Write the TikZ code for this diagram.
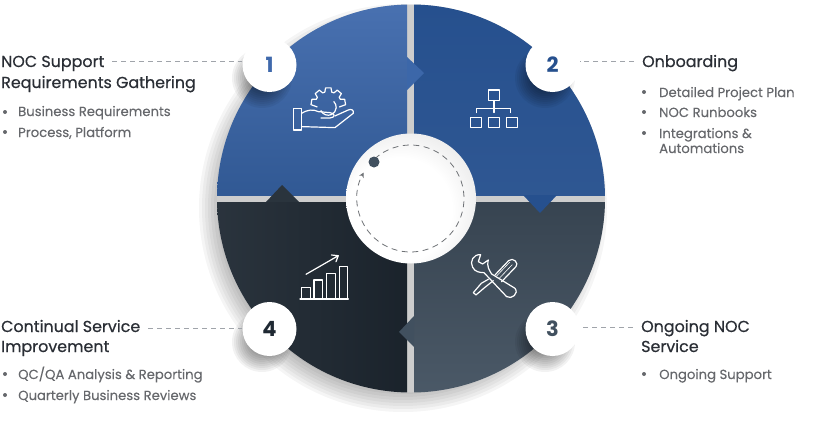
\documentclass[tikz,border=0pt]{standalone}
\usepackage{fontspec}
\setmainfont{Poppins}
\newfontfamily\headfont[FakeBold=0.6]{Poppins}
\newfontfamily\listfont[FakeBold=0.2]{Poppins}
\usetikzlibrary{arrows.meta}

\definecolor{blueA}{HTML}{3F69AC}
\definecolor{blueB}{HTML}{26508E}
\definecolor{slateC}{HTML}{41505F}
\definecolor{darkD}{HTML}{1F2933}
\definecolor{headtext}{HTML}{2A2E35}
\definecolor{bodytext}{HTML}{66686C}
\definecolor{gapgrey}{HTML}{CDCDCD}
\definecolor{dashgrey}{HTML}{A0A4AA}

\pgfdeclareradialshading{hubshade}{\pgfpoint{-6bp}{-6bp}}{color(0bp)=(white); color(20bp)=(white); color(33bp)=(gray!18); color(43bp)=(gray!38); color(52bp)=(gray!48); color(70bp)=(gray!50)}

\tikzset{
  seg1/.style={top color=blueA!95!white,bottom color=blueB!95!white},
  seg2/.style={top color=blueB,bottom color=blueB!96!white},
  seg3/.style={top color=slateC!85!black,bottom color=slateC!95!white},
  seg4/.style={left color=darkD!95!white,right color=darkD!85!black},
  badge/.style={circle,fill=white,minimum size=54pt,inner sep=0pt,font=\bfseries\fontsize{21}{21}\selectfont},
  headline/.style={anchor=base west,inner sep=0pt,text height=12pt,text depth=0pt,text=headtext,font=\headfont\fontsize{15.9}{15.9}\selectfont},
  listline/.style={anchor=base west,inner sep=0pt,text=bodytext,font=\listfont\fontsize{13.2}{13.2}\selectfont},
  leader/.style={dashgrey,line width=.7pt,dash pattern=on 5pt off 4pt,shorten <=8pt},
  icon/.style={white,line width=1.2pt,line join=round,line cap=round},
}

\newcommand{\softshadow}[2]{%
  \foreach \r in {14,16,...,30}
    \fill[black,opacity=.05] (#1,#2) circle[radius=\r];
}
\newcommand{\listdot}[2]{\fill[bodytext] (#1,#2) circle[radius=2];}

\begin{document}
\begin{tikzpicture}[x=1pt,y=-1pt]
\useasboundingbox (0,0) rectangle (832,431);

% disc shadow
\foreach \r in {0,3,...,24}
  \fill[black,opacity=.04] (403,208) circle[radius=180+\r];
\fill[gapgrey] (411,198.5) circle[radius=194];

% four quarters
\begin{scope}
\clip (411,198.5) circle[radius=194];
\foreach \n/\xa/\ya/\xb/\yb in {1/217/4/407/195,2/414/4/605/195,3/414/202/605/393,4/217/202/407/393}
  \shade[seg\n] (\xa,\ya) rectangle (\xb,\yb);
\end{scope}

% pointers
\fill[blueA!90!blueB] (407,57) -- (424,73) -- (407,90) -- cycle;
\fill[blueB] (523,195) -- (540,213) -- (557,195) -- cycle;
\fill[slateC] (414,316) -- (399,332) -- (414,347) -- cycle;
\fill[darkD!95!white] (266,202) -- (282,185) -- (299,202) -- cycle;

% hub
\shade[shading=hubshade] (411,198.5) circle[radius=65];
\draw[dashgrey!70!black,line width=.8pt,dash pattern=on 6pt off 4.5pt,-{Stealth[length=5pt,width=5pt]}] (410.5,198.5) ++(228:53.5) arc[start angle=228,end angle=569,radius=53.5];
\node[circle,fill=slateC,minimum size=11pt,inner sep=0pt] (hubdot) at (374,162) {};

% badges
\softshadow{262}{78}
\softshadow{545}{78}
\softshadow{545}{342}
\softshadow{262}{342}
\node[badge,text=blueA] (badge1) at (269.5,65) {1};
\node[badge,text=blueB] (badge2) at (552.5,65) {2};
\node[badge,text=slateC] (badge3) at (552.5,329) {3};
\node[badge,text=darkD] (badge4) at (269.5,329) {4};

% texts
\node[headline] (head1) at (1,67) {NOC Support};
\node[headline] (head1b) at (1,88) {Requirements Gathering};
\listdot{5}{112}
\node[listline] (item1a) at (18,116) {Business Requirements};
\listdot{5}{132}
\node[listline] (item1b) at (18,137) {Process, Platform};

\node[headline] (head2) at (642,67) {Onboarding};
\listdot{644}{92}
\node[listline] (item2a) at (659,97) {Detailed Project Plan};
\listdot{644}{112}
\node[listline] (item2b) at (659,117) {NOC Runbooks};
\listdot{644}{133}
\node[listline] (item2c) at (659,138) {Integrations \&};
\node[listline] (item2d) at (659,153) {Automations};

\node[headline] (head3) at (641,332) {Ongoing NOC};
\node[headline] (head3b) at (641,352) {Service};
\listdot{644}{374}
\node[listline] (item3a) at (659,379) {Ongoing Support};

\node[headline] (head4) at (1,332) {Continual Service};
\node[headline] (head4b) at (1,352) {Improvement};
\listdot{5}{374}
\node[listline] (item4a) at (18,379) {QC/QA Analysis \& Reporting};
\listdot{5}{395}
\node[listline] (item4b) at (18,400) {Quarterly Business Reviews};

% leaders
\draw[leader] (head1.east) -- (head1.east -| badge1.west);
\draw[leader] (head2.west) -- (head2.west -| badge2.east);
\draw[leader] ([yshift=-1pt]head3.west) -- ([yshift=-1pt]head3.west -| badge3.east);
\draw[leader] ([yshift=-2pt]head4.east) -- ([yshift=-2pt]head4.east -| badge4.west);

% hand and gear
\begin{scope}[shift={(285,80)},x=.333pt,y=-.333pt]
\draw[icon] (25,85) rectangle (50,150);
\draw[icon] (50,100) .. controls (70,88) and (85,88) .. (100,95) -- (135,98) .. controls (152,100) and (152,113) .. (135,114) -- (108,114);
\draw[icon] (50,140) -- (150,143) -- (205,100) .. controls (208,90) and (198,86) .. (190,90) -- (150,108);
\draw[icon] (108,92) arc[start angle=155,end angle=-45,radius=24];
\begin{scope}[shift={(130,75)}]
\draw[icon] (-190:34) \foreach \a in {-170,-130,-90,-50,-10} { -- (\a-15:40) -- (\a-9:52) -- (\a+9:52) -- (\a+15:40) } -- (10:34);
\end{scope}
\end{scope}

% org chart
\draw[icon] (488.5,90) rectangle (499.5,100.5);
\draw[icon] (494,100.5) -- (494,112.5);
\draw[icon] (476.5,112.5) -- (476.5,108.5) -- (510.5,108.5) -- (510.5,112.5);
\foreach \x in {470.5,488.5,506.5}
  \draw[icon] (\x,117.5) rectangle ++(11,10);

% spanner and screwdriver
\begin{scope}[shift={(460,250)},x=.333pt,y=-.333pt]
\draw[icon] (62,14) .. controls (40,12) and (28,35) .. (38,52) .. controls (45,66) and (60,68) .. (72,68) -- (140,140) .. controls (155,150) and (178,130) .. (165,115) -- (95,72) .. controls (88,60) and (80,52) .. (85,30) -- (68,42) -- (55,35) -- cycle;
\draw[icon] (105,75) -- (146,32) .. controls (160,20) and (178,40) .. (168,50) -- (125,95);
\draw[icon] (100,92) -- (75,112) -- (48,135) -- (40,128) -- (64,100) -- (85,88);
\draw[white,line width=.6pt] (110,78) -- (150,36) (118,85) -- (157,44);
\end{scope}

% chart
\draw[icon] (300,299) -- (348.3,299);
\foreach \x/\y in {301.7/287.7,314/280,326.7/273.3,339.3/266.7}
  \draw[icon] (\x,299) -- (\x,\y) -- ++(8.4,0) -- (\x+8.4,299);
\draw[icon] (306,274.3) -- (338.3,255.7) (331.5,255) -- (338.3,255.7) -- (336,261.7);
\end{tikzpicture}
\end{document}
